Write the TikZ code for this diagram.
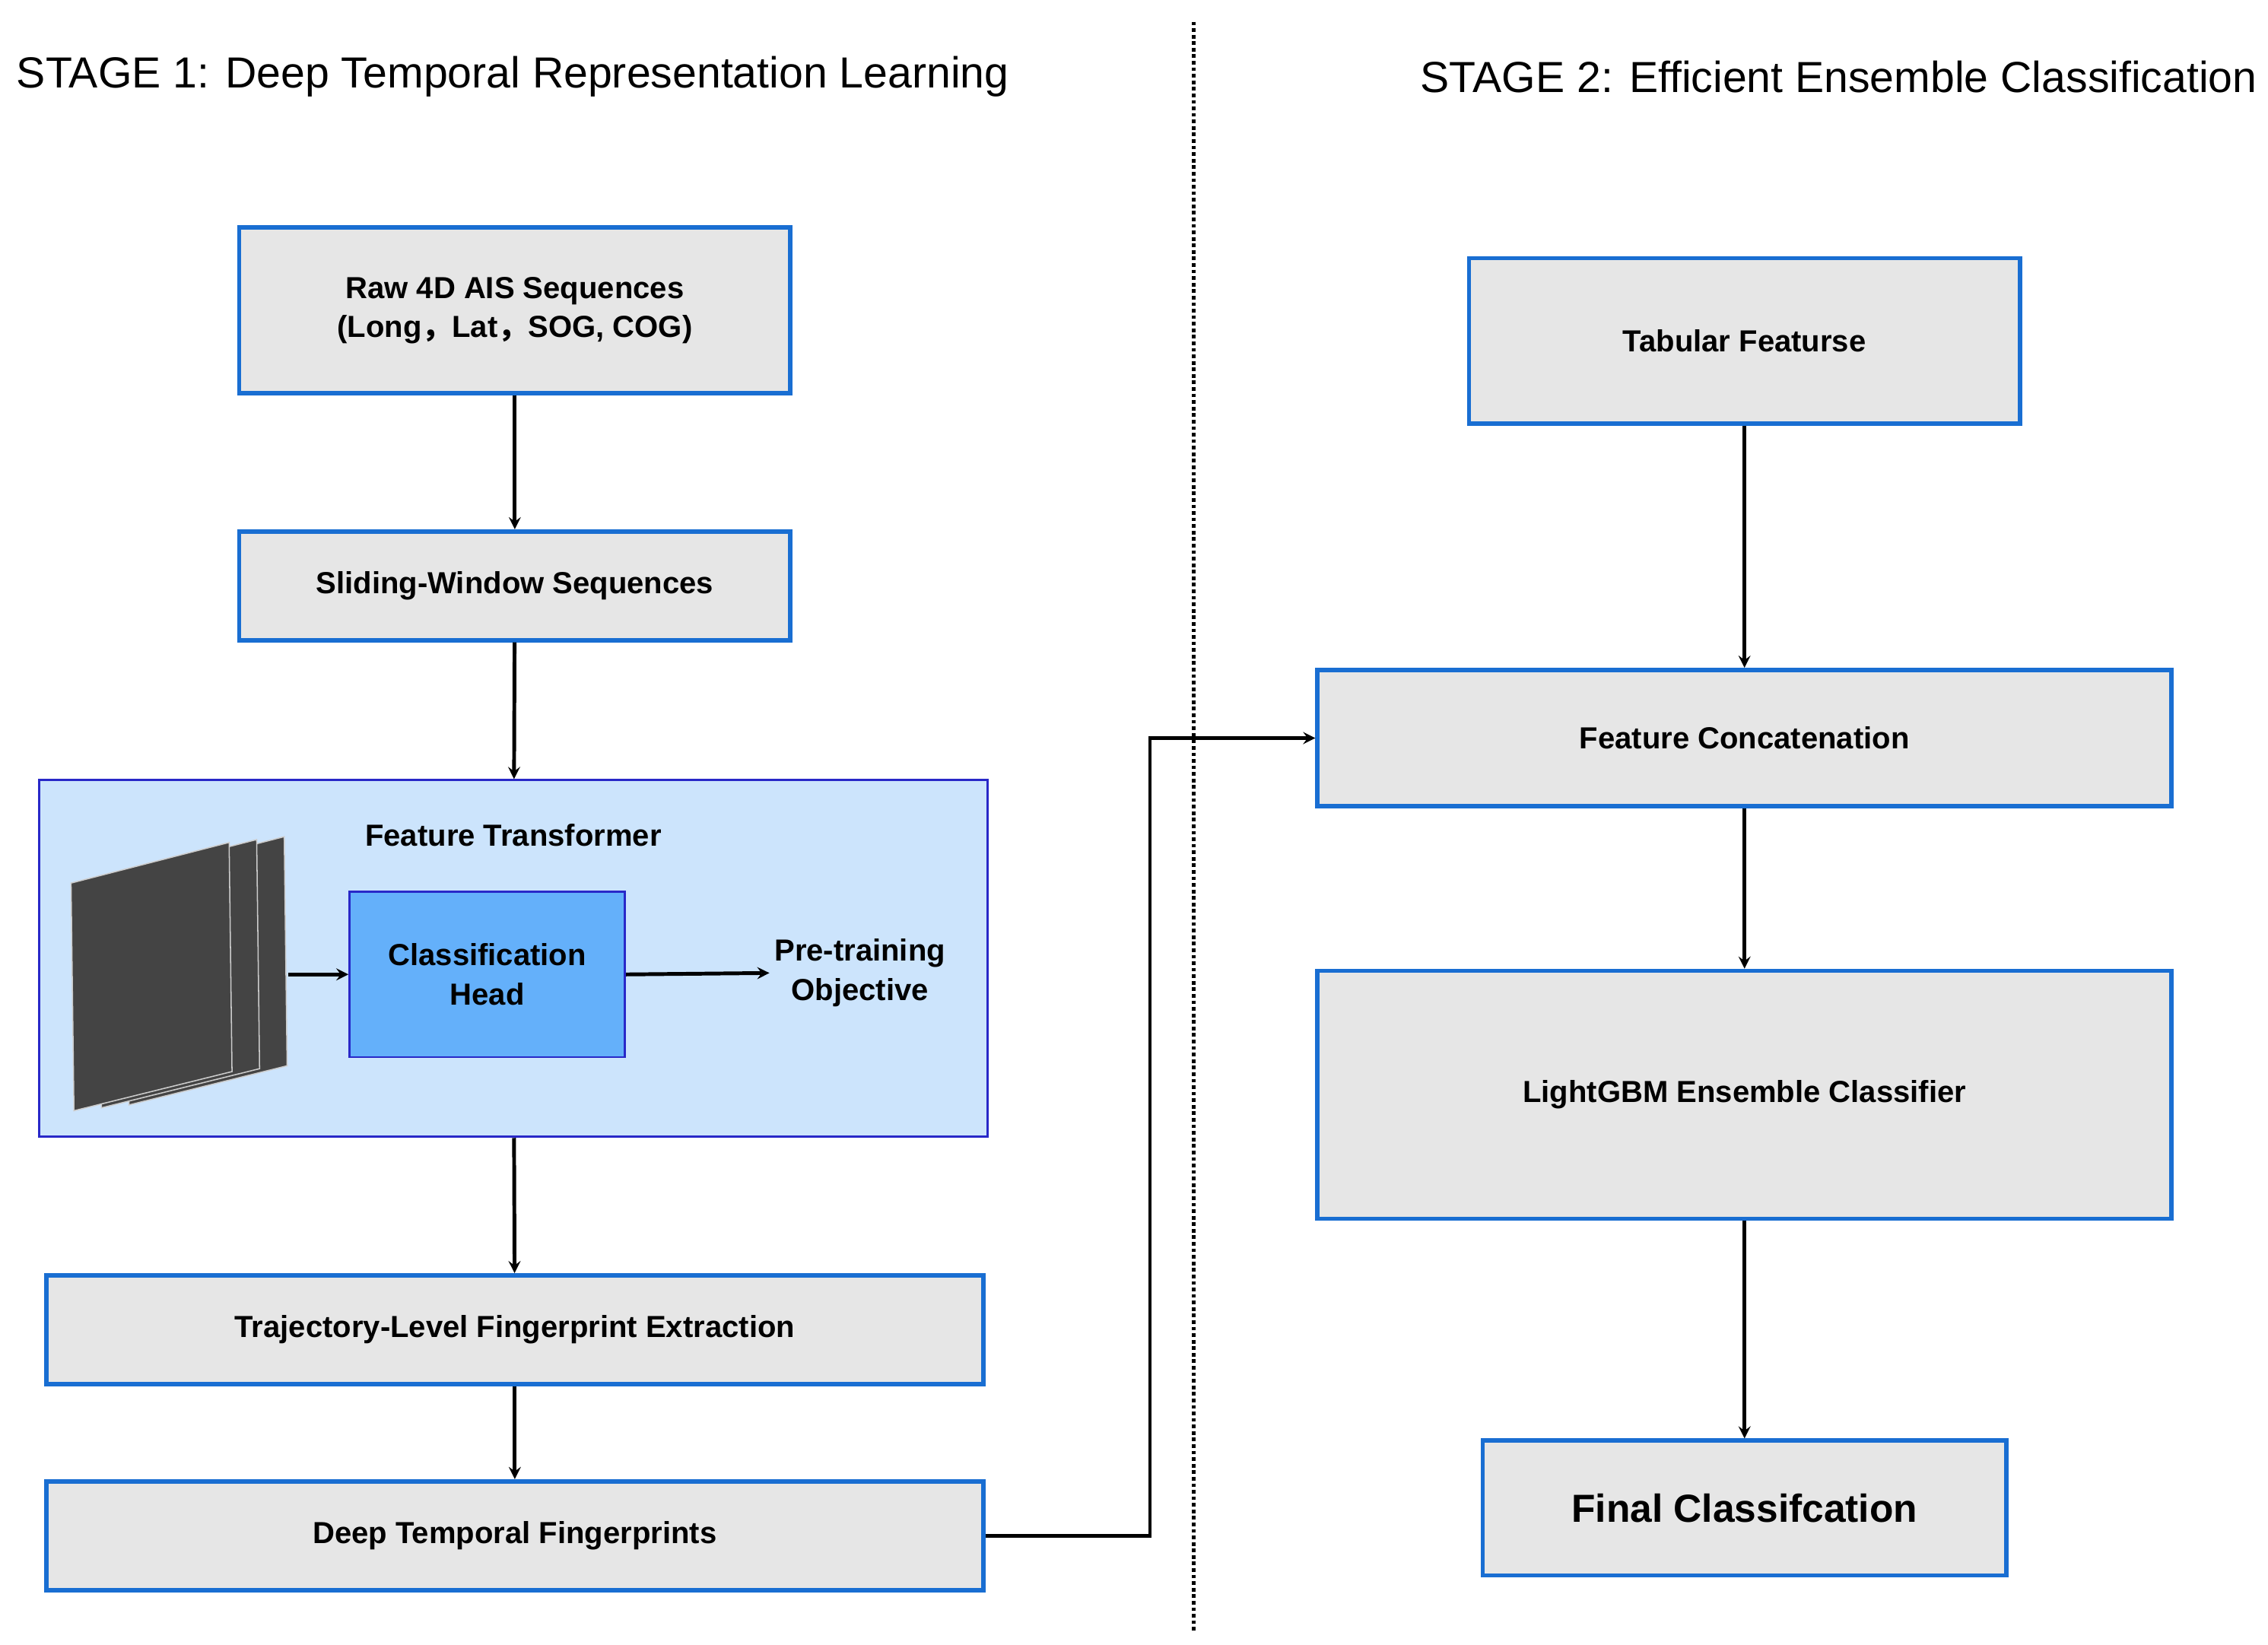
\documentclass[tikz,border=0pt]{standalone}
\usepackage{fontspec}
\setmainfont{Liberation Sans}
\newfontfamily\cjk{Noto Sans CJK SC}
\usetikzlibrary{arrows, positioning}
\definecolor{boxfill}{RGB}{230,230,230}
\definecolor{boxline}{RGB}{25,110,210}
\definecolor{ftfill}{RGB}{204,228,252}
\definecolor{ftline}{RGB}{40,40,200}
\definecolor{headfill}{RGB}{100,176,250}
\definecolor{sheet}{RGB}{68,68,68}
\tikzstyle{etape} = [draw=boxline,fill=boxfill,line width=3pt,align=center,font=\fontsize{21}{27}\selectfont\bfseries]
\tikzstyle{fleche} = [->,>=stealth,line width=2.6pt]

\begin{document}
\begin{tikzpicture}[x=1pt,y=-1pt]
	\useasboundingbox (0,0) rectangle (1564,1134);

	\node [anchor=west, font=\fontsize{30}{36}\selectfont] (T1) at (8,53) {STAGE 1: Deep Temporal Representation Learning};
	\node [anchor=east, font=\fontsize{30}{36}\selectfont] (T2) at (1560,53) {STAGE 2: Efficient Ensemble Classification};
	\draw [line width=2.5pt, dotted] (823,15) -- (823,1125);

	%% Stage 1
	\node [etape, minimum width=380pt, minimum height=114pt] (Raw) at (355,214) {Raw 4D AIS Sequences\\({Long{\cjk ，}Lat{\cjk ，}SOG, COG})};
	\node [etape, minimum width=380pt, minimum height=75pt] (Slide) at (355,404) {Sliding-Window Sequences};
	\node [draw=ftline, fill=ftfill, line width=1.5pt, minimum width=654pt, minimum height=246pt] (FT) at (354,661) {};
	\node [font=\fontsize{21}{27}\selectfont\bfseries] (FTt) at (354,576) {Feature Transformer};
	\node [draw=ftline, fill=headfill, line width=1.5pt, minimum width=190pt, minimum height=114pt, align=center, font=\fontsize{21}{27}\selectfont\bfseries] (Head) at (336,672) {Classification\\Head};
	\node [align=center, font=\fontsize{21}{27}\selectfont\bfseries] (Obj) at (593,671) {Pre-training\\Objective};
	\node [etape, minimum width=646pt, minimum height=75pt] (Traj) at (355,917) {Trajectory-Level Fingerprint Extraction};
	\node [etape, minimum width=646pt, minimum height=75pt] (Deep) at (355,1059) {Deep Temporal Fingerprints};

	%% Feuillets
	\foreach \d in {38,19,0}
		\draw [fill=sheet, draw=white!80!black, line width=0.8pt] (49+\d,609-2*\d/19) -- (158+\d,581-2*\d/19) -- (160+\d,739-2*\d/19) -- (51+\d,766-2*\d/19) -- cycle;
	\coordinate (S) at (199,672);

	%% Stage 2
	\node [etape, minimum width=380pt, minimum height=114pt] (Tab) at (1203,235) {Tabular Featurse};
	\node [etape, minimum width=589pt, minimum height=94pt] (Concat) at (1203,509) {Feature Concatenation};
	\node [etape, minimum width=589pt, minimum height=171pt] (LGBM) at (1203,755) {LightGBM Ensemble Classifier};
	\node [etape, minimum width=361pt, minimum height=93pt, font=\fontsize{27}{32}\selectfont\bfseries] (Final) at (1203,1040) {Final Classifcation};

	%% Fleches
	\draw [fleche] (Raw) -- (Slide);
	\draw [fleche] (Slide) -- (FT);
	\draw [fleche] (S) -- (Head);
	\draw [fleche] (Head.east) -- (Obj.west);
	\draw [fleche] (FT) -- (Traj);
	\draw [fleche] (Traj) -- (Deep);
	\draw [fleche] (Deep.east) -| (793,509) -- (Concat.west);
	\draw [fleche] (Tab) -- (Concat);
	\draw [fleche] (Concat) -- (LGBM);
	\draw [fleche] (LGBM) -- (Final);

\end{tikzpicture}
\end{document}
